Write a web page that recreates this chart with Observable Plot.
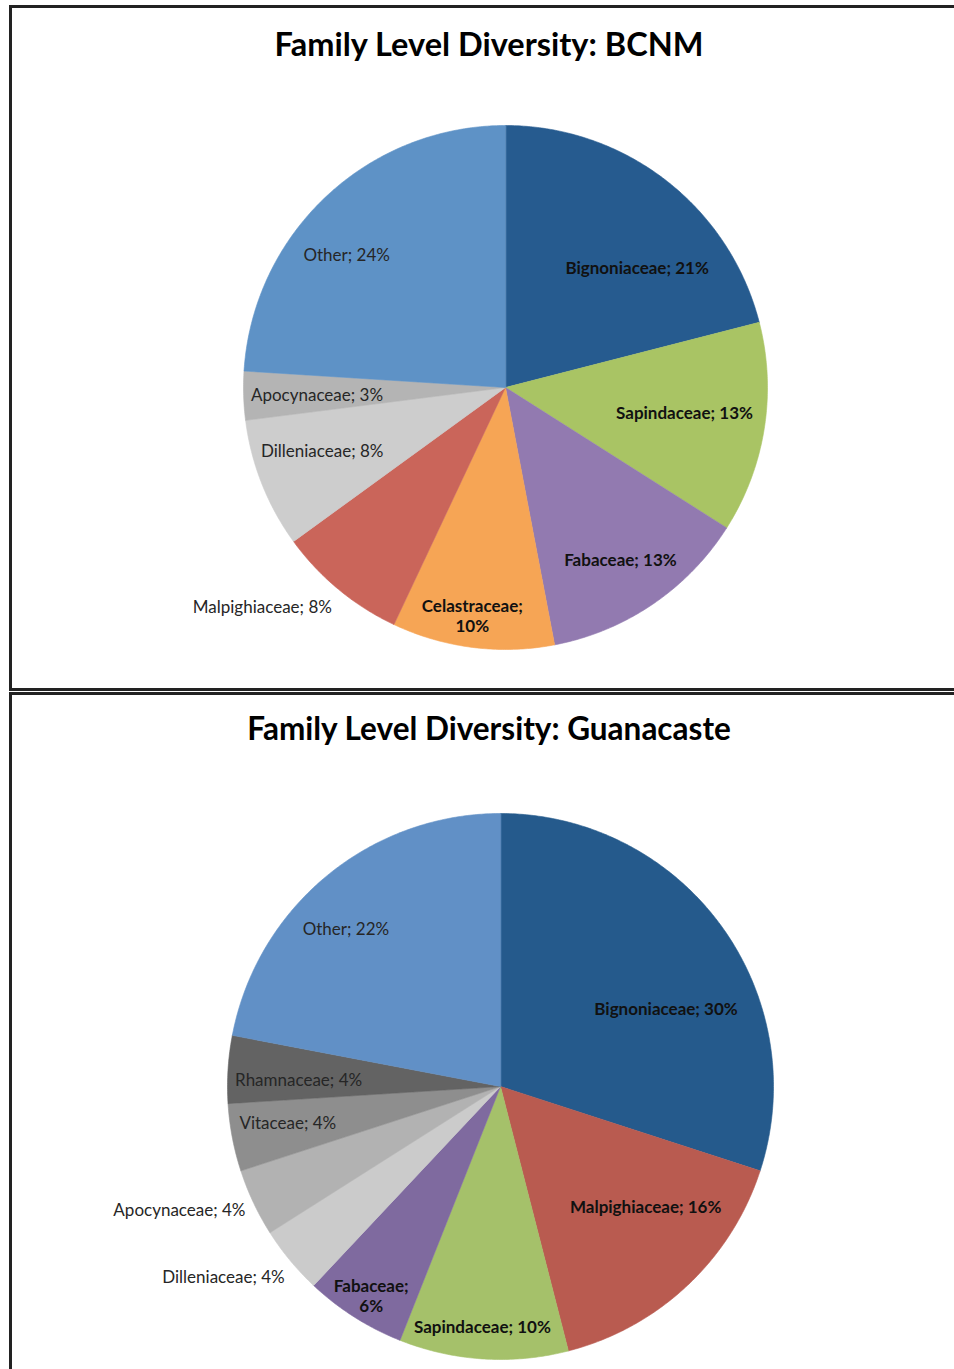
<!DOCTYPE html>
<html><head><meta charset="utf-8">
<script src="https://cdn.jsdelivr.net/npm/d3@7"></script>
<script src="https://cdn.jsdelivr.net/npm/@observablehq/plot@0.6"></script>
<style>
html,body{margin:0;padding:0}
body{width:954px;height:1369px;overflow:hidden;background:#fff;position:relative;font-family:Lato,"Open Sans",sans-serif}
.box{position:absolute;left:9px;width:975px;border:3px solid #222;border-right:none;box-sizing:border-box}
.title{position:absolute;left:9px;width:960px;text-align:center;font-weight:bold;line-height:1;color:#000;font-family:Lato,sans-serif}
.chart{position:absolute;left:0}
.chart svg{display:block;background:transparent}
</style></head><body>
<div class="box" style="top:5px;height:686px"></div>
<div class="box" style="top:692px;height:720px;border-bottom:none"></div>
<div class="title" style="top:28px;font-size:32.5px">Family Level Diversity: BCNM</div>
<div class="title" style="top:713px;font-size:31.5px">Family Level Diversity: Guanacaste</div>
<div class="chart" id="c1" style="top:0px"></div>
<div class="chart" id="c2" style="top:692px"></div>
<script>
// ---- BCNM data ----
const bcnmFamilies = ["Bignoniaceae","Sapindaceae","Fabaceae","Celastraceae","Malpighiaceae","Dilleniaceae","Apocynaceae","Other"];
const bcnmPercents = [21,13,13,10,8,8,3,24];
const bcnmColors   = ["#265B8F","#A9C464","#927AB0","#F6A555","#CA655A","#CDCDCD","#B4B4B4","#5E92C6"];
const bcnmBold     = [true,true,true,true,false,false,false,false];
const bcnmWrap     = [false,false,false,true,false,false,false,false];
// label placement (fraction of slice angle, fraction of radius)
const bcnmLabelFrac   = [0.63,0.48,0.51,0.53,0.79,0.59,0.48,0.42];
const bcnmLabelRadius = [0.68,0.69,0.79,0.88,1.25,0.74,0.72,0.79];

// ---- Guanacaste data ----
const guanFamilies = ["Bignoniaceae","Malpighiaceae","Sapindaceae","Fabaceae","Dilleniaceae","Apocynaceae","Vitaceae","Rhamnaceae","Other"];
const guanPercents = [30,16,10,6,4,4,4,4,22];
const guanColors   = ["#255A8C","#B95B50","#A5C16A","#7F6A9F","#CBCBCB","#B2B2B2","#8E8E8E","#636363","#6190C6"];
const guanBold     = [true,true,true,true,false,false,false,false,false];
const guanWrap     = [false,false,false,true,false,false,false,false,false];
const guanLabelFrac   = [0.60,0.375,0.52,0.47,0.86,0.79,0.59,0.39,0.44];
const guanLabelRadius = [0.67,0.69,0.88,0.90,1.23,1.26,0.79,0.74,0.81];

function pieChart({families, percents, colors, bold, wrap, labelFrac, labelRadius, cx, cy, r, width, height}) {
  const total = d3.sum(percents);
  const pts = [];
  const labels = [];
  let cum = 0;
  families.forEach((f, i) => {
    const a0 = cum / total * 2 * Math.PI;
    cum += percents[i];
    const a1 = cum / total * 2 * Math.PI;
    const n = Math.max(2, Math.ceil((a1 - a0) / (Math.PI / 360)));
    pts.push({key: i, x: 0, y: 0, color: colors[i]});
    for (let k = 0; k <= n; k++) {
      const t = a0 + (a1 - a0) * k / n;
      pts.push({key: i, x: Math.sin(t), y: Math.cos(t), color: colors[i]});
    }
    const am = a0 + (a1 - a0) * labelFrac[i];
    labels.push({
      x: labelRadius[i] * Math.sin(am),
      y: labelRadius[i] * Math.cos(am),
      text: wrap[i] ? `${f};\n${percents[i]}%` : `${f}; ${percents[i]}%`,
      bold: bold[i]
    });
  });
  return Plot.plot({
    width, height,
    margin: 0,
    style: {fontFamily: "Lato, sans-serif", background: "transparent"},
    x: {domain: [-1, 1], range: [cx - r, cx + r], axis: null},
    y: {domain: [-1, 1], range: [cy + r, cy - r], axis: null},
    color: {type: "identity"},
    marks: [
      Plot.line(pts, {x: "x", y: "y", z: "key", fill: "color", stroke: "color", strokeWidth: 0.6, curve: "linear-closed"}),
      Plot.text(labels.filter(d => d.bold), {x: "x", y: "y", text: "text", fontWeight: "bold", fontSize: 17, fill: "#111", lineHeight: 1.2}),
      Plot.text(labels.filter(d => !d.bold), {x: "x", y: "y", text: "text", fontSize: 17, fill: "#262626", lineHeight: 1.2})
    ]
  });
}

document.getElementById("c1").append(pieChart({
  families: bcnmFamilies, percents: bcnmPercents, colors: bcnmColors, bold: bcnmBold, wrap: bcnmWrap,
  labelFrac: bcnmLabelFrac, labelRadius: bcnmLabelRadius,
  cx: 505, cy: 387, r: 262, width: 954, height: 690
}));
document.getElementById("c2").append(pieChart({
  families: guanFamilies, percents: guanPercents, colors: guanColors, bold: guanBold, wrap: guanWrap,
  labelFrac: guanLabelFrac, labelRadius: guanLabelRadius,
  cx: 500, cy: 394, r: 273, width: 954, height: 677
}));
</script>
</body></html>
